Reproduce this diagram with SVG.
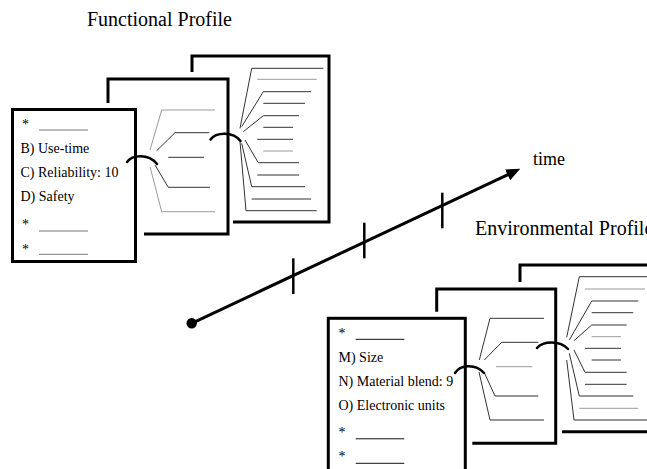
<svg xmlns="http://www.w3.org/2000/svg" width="647" height="469" viewBox="0 0 647 469">
<defs>
<style>
.frame{fill:none;stroke:#000;stroke-width:3;stroke-linejoin:miter}
.card{fill:#fff;stroke:#000;stroke-width:3}
.fan{fill:none;stroke:#333;stroke-width:1}
.g{stroke:#9a9a9a}
.link{fill:none;stroke:#000;stroke-width:2.5;stroke-linecap:round}
.txt{font-family:"Liberation Serif","Times New Roman",serif;font-size:14px;fill:#000}
.title{font-family:"Liberation Serif","Times New Roman",serif;font-size:20px;fill:#000}
.rule{stroke:#777;stroke-width:1}
.rule-b{stroke:#111;stroke-width:1}
.axis{fill:none;stroke:#000;stroke-width:3}
.tick{stroke:#000;stroke-width:2.5}
</style>
<marker id="arrow" viewBox="0 0 14 12" refX="1" refY="6" markerWidth="14" markerHeight="12" markerUnits="userSpaceOnUse" orient="auto">
<path d="M0,0 L14,6 L0,12 z" fill="#000"/>
</marker>
</defs>
<rect width="647" height="469" fill="#fff"/>

<g id="functional-title"><text class="title" x="87" y="26">Functional Profile</text></g>

<g id="functional-back">
<path class="frame" d="M192,72 V56 H329 V222 H233"/>
<g class="fan">
<polyline points="240,128.3 251.7,68.3 323.3,68.3"/>
<polyline class="g" points="257.3,79.3 316.7,79.3"/>
<polyline points="241.7,126.7 263.3,91.7 311,91.7"/>
<polyline points="263.3,103.3 305,103.3"/>
<polyline points="243.3,131.7 263.3,115.7 299,115.7"/>
<polyline points="263.3,127.3 293,127.3"/>
<polyline points="257.3,139.3 293,139.3"/>
<polyline class="g" points="263.3,151 293,151"/>
<polyline points="245,140 258.3,162.7 299,162.7"/>
<polyline points="257.3,175 299,175"/>
<polyline points="241.7,143.3 251.7,186.7 305,186.7"/>
<polyline points="251.7,199 311,199"/>
<polyline points="240,141.7 246,210.7 316.7,210.7"/>
</g>
</g>

<g id="functional-middle">
<path class="frame" d="M108,103 V79 H228 V234 H144"/>
<g class="fan">
<polyline class="g" points="150,150 161.7,110 215,110"/>
<polyline points="156.7,150.7 175,132.7 209.3,132.7"/>
<polyline points="168.3,157.3 204,157.3"/>
<polyline points="155,165 168.3,187.3 210,187.3"/>
<polyline class="g" points="150,166.7 161.7,211.7 215,211.7"/>
</g>
</g>

<g id="functional-front">
<rect class="card" x="12.5" y="109.5" width="123" height="152"/>
<text class="txt" x="22" y="128.5">*</text>
<line class="rule" x1="39" y1="130" x2="88" y2="130"/>
<text class="txt" x="20.5" y="153">B) Use-time</text>
<text class="txt" x="20.5" y="177">C) Reliability: 10</text>
<text class="txt" x="20.5" y="201">D) Safety</text>
<text class="txt" x="22" y="229">*</text>
<line class="rule" x1="39" y1="231" x2="88" y2="231"/>
<text class="txt" x="22" y="253.5">*</text>
<line class="rule" x1="39" y1="254.3" x2="88" y2="254.3"/>
</g>

<g id="env-title"><text class="title" x="475" y="235">Environmental Profile</text></g>
<g id="time-label"><text class="title" style="font-size:18px" x="533" y="165">time</text></g>

<g id="env-back">
<path class="frame" d="M520,282 V265 H650"/>
<path class="frame" d="M562,431.7 H650"/>
<g class="fan">
<polyline points="566.7,337.3 579.3,276.7 647,276.7"/>
<polyline class="g" points="585,289 645,289"/>
<polyline points="569.3,340 591.7,301 638.3,301"/>
<polyline points="591.7,312.7 633.3,312.7"/>
<polyline points="574,340.7 591.7,325 626.7,325"/>
<polyline class="g" points="591.7,336.7 621,336.7"/>
<polyline points="585,348.3 621,348.3"/>
<polyline points="591.7,360 621,360"/>
<polyline points="574,350 585,372.3 626.7,372.3"/>
<polyline points="585,384.3 626.7,384.3"/>
<polyline points="569.3,353.3 579.3,396 633.3,396"/>
<polyline class="g" points="579.3,408.3 638.3,408.3"/>
<polyline points="566.7,360 574,420 647,420"/>
</g>
</g>

<g id="env-middle">
<path class="frame" d="M436.7,311.7 V289 H555.7 V443.3 H472.3"/>
<g class="fan">
<polyline points="479.3,360 490,318.3 544,318.3"/>
<polyline points="484.3,360 501.7,342.3 538.3,342.3"/>
<polyline class="g" points="496,366.7 532.3,366.7"/>
<polyline points="484,372 495,396 538.3,396"/>
<polyline points="479,372 490,420 544,420"/>
</g>
</g>

<g id="env-front">
<rect class="card" x="328.3" y="318.3" width="137" height="170"/>
<text class="txt" x="338.5" y="338">*</text>
<line class="rule-b" x1="355.7" y1="339.3" x2="404.3" y2="339.3"/>
<text class="txt" x="338.5" y="362">M) Size</text>
<text class="txt" x="338.5" y="386">N) Material blend: 9</text>
<text class="txt" x="338.5" y="410">O) Electronic units</text>
<text class="txt" x="338.5" y="437">*</text>
<line class="rule-b" x1="355.7" y1="438.8" x2="404.3" y2="438.8"/>
<text class="txt" x="338.5" y="461">*</text>
<line class="rule-b" x1="355.7" y1="463.3" x2="404.3" y2="463.3"/>
</g>

<g id="timeline">
<circle cx="191.7" cy="323.3" r="5.2" fill="#000"/>
<line class="axis" x1="191.7" y1="323.3" x2="508.5" y2="174.4" marker-end="url(#arrow)"/>
<line class="tick" x1="293.3" y1="258.3" x2="293.3" y2="294"/>
<line class="tick" x1="364.3" y1="222.7" x2="364.3" y2="258.3"/>
<line class="tick" x1="442.3" y1="192.7" x2="442.3" y2="228.3"/>
</g>

<g id="connectors">
<path class="link" d="M127,162 C132,155 148,153 157,164"/>
<path class="link" d="M210.5,139.5 C216,132 233,131 240.5,141"/>
<path class="link" d="M455,373 C460,365 475,363 484,373"/>
<path class="link" d="M537,348 C543,341 560,340 568,349"/>
</g>
</svg>
